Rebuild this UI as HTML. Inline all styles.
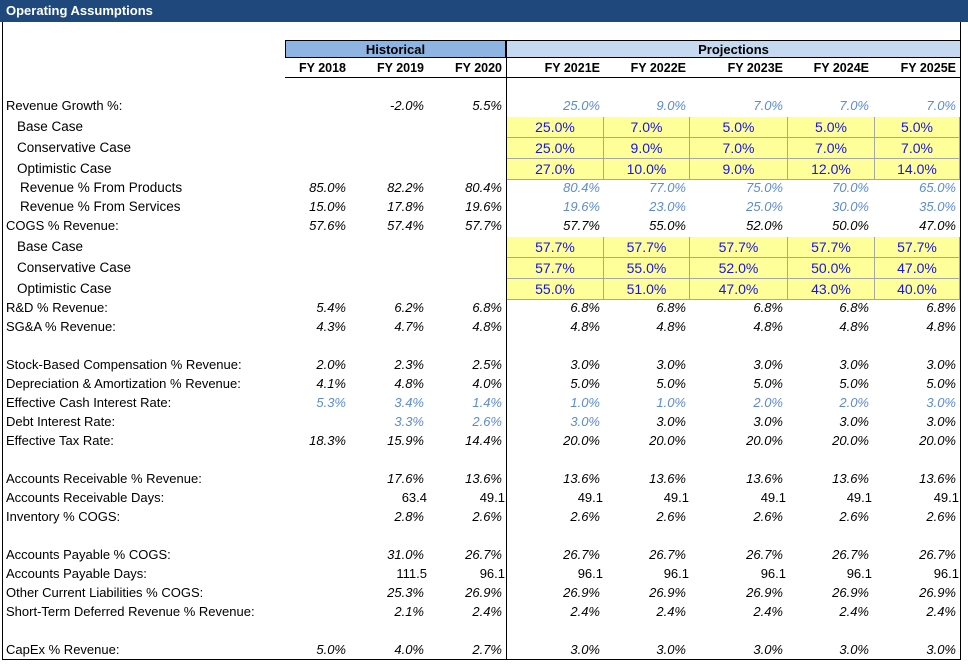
<!DOCTYPE html>
<html><head><meta charset="utf-8">
<style>
body{margin:0;background:#fff;}
#sheet{position:relative;width:968px;height:666px;overflow:hidden;font-family:"Liberation Sans",Arial,sans-serif;font-size:13px;color:#000;}
.abs{position:absolute;white-space:nowrap;}
.v{position:absolute;white-space:nowrap;text-align:right;line-height:19px;height:19px;}
.lab{position:absolute;white-space:nowrap;line-height:19px;}
.yc{position:absolute;background:#FFFF99;border-right:1px solid #A6A6A6;border-bottom:1px solid #A6A6A6;box-sizing:border-box;text-align:center;color:#1515E8;font-size:14px;line-height:20px;}
</style></head><body>
<div id="sheet">
  <div class="abs" style="left:0;top:0;width:968px;height:22px;background:#1F497D;"></div>
  <div class="abs" style="left:6px;top:3px;color:#fff;font-weight:bold;font-size:13px;">Operating Assumptions</div>
  <div class="abs" style="left:2px;top:22px;width:1px;height:638px;background:#000;"></div>
  <div class="abs" style="left:960px;top:22px;width:1px;height:638px;background:#000;"></div>
  <div class="abs" style="left:2px;top:659px;width:959px;height:1px;background:#000;"></div>
  <div class="abs" style="left:506px;top:40px;width:1px;height:620px;background:#000;"></div>
  <div class="abs" style="left:285px;top:40px;width:221px;height:18px;background:#8DB4E2;border:1px solid #000;box-sizing:border-box;text-align:center;font-weight:bold;line-height:17px;">Historical</div>
  <div class="abs" style="left:507px;top:40px;width:453px;height:18px;background:#C5D9F1;border-top:1px solid #000;border-bottom:1px solid #000;box-sizing:border-box;text-align:center;font-weight:bold;line-height:17px;">Projections</div>
  <div class="abs" style="left:285px;top:77px;width:675px;height:1px;background:#000;"></div>
</div>
<script>
const years=["FY 2018","FY 2019","FY 2020","FY 2021E","FY 2022E","FY 2023E","FY 2024E","FY 2025E"];
const rowLabels=["Revenue Growth %:","Base Case","Conservative Case","Optimistic Case","Revenue % From Products","Revenue % From Services","COGS % Revenue:","Base Case","Conservative Case","Optimistic Case","R&D % Revenue:","SG&A % Revenue:","Stock-Based Compensation % Revenue:","Depreciation & Amortization % Revenue:","Effective Cash Interest Rate:","Debt Interest Rate:","Effective Tax Rate:","Accounts Receivable % Revenue:","Accounts Receivable Days:","Inventory % COGS:","Accounts Payable % COGS:","Accounts Payable Days:","Other Current Liabilities % COGS:","Short-Term Deferred Revenue % Revenue:","CapEx % Revenue:"];
const rowValues=[
["","-2.0%","5.5%","25.0%","9.0%","7.0%","7.0%","7.0%"],
["","","","25.0%","7.0%","5.0%","5.0%","5.0%"],
["","","","25.0%","9.0%","7.0%","7.0%","7.0%"],
["","","","27.0%","10.0%","9.0%","12.0%","14.0%"],
["85.0%","82.2%","80.4%","80.4%","77.0%","75.0%","70.0%","65.0%"],
["15.0%","17.8%","19.6%","19.6%","23.0%","25.0%","30.0%","35.0%"],
["57.6%","57.4%","57.7%","57.7%","55.0%","52.0%","50.0%","47.0%"],
["","","","57.7%","57.7%","57.7%","57.7%","57.7%"],
["","","","57.7%","55.0%","52.0%","50.0%","47.0%"],
["","","","55.0%","51.0%","47.0%","43.0%","40.0%"],
["5.4%","6.2%","6.8%","6.8%","6.8%","6.8%","6.8%","6.8%"],
["4.3%","4.7%","4.8%","4.8%","4.8%","4.8%","4.8%","4.8%"],
["2.0%","2.3%","2.5%","3.0%","3.0%","3.0%","3.0%","3.0%"],
["4.1%","4.8%","4.0%","5.0%","5.0%","5.0%","5.0%","5.0%"],
["5.3%","3.4%","1.4%","1.0%","1.0%","2.0%","2.0%","3.0%"],
["","3.3%","2.6%","3.0%","3.0%","3.0%","3.0%","3.0%"],
["18.3%","15.9%","14.4%","20.0%","20.0%","20.0%","20.0%","20.0%"],
["","17.6%","13.6%","13.6%","13.6%","13.6%","13.6%","13.6%"],
["","63.4","49.1","49.1","49.1","49.1","49.1","49.1"],
["","2.8%","2.6%","2.6%","2.6%","2.6%","2.6%","2.6%"],
["","31.0%","26.7%","26.7%","26.7%","26.7%","26.7%","26.7%"],
["","111.5","96.1","96.1","96.1","96.1","96.1","96.1"],
["","25.3%","26.9%","26.9%","26.9%","26.9%","26.9%","26.9%"],
["","2.1%","2.4%","2.4%","2.4%","2.4%","2.4%","2.4%"],
["5.0%","4.0%","2.7%","3.0%","3.0%","3.0%","3.0%","3.0%"]
];
// style codes: k black italic, b blue italic, n normal, y yellow input
const rowStyles=["kkkbbbbb","yyyyyyyy","yyyyyyyy","yyyyyyyy","kkkbbbbb","kkkbbbbb","kkkkkkkk","yyyyyyyy","yyyyyyyy","yyyyyyyy","kkkkkkkk","kkkkkkkk","kkkkkkkk","kkkkkkkk","bbbbbbbb","kbbbkkkk","kkkkkkkk","kkkkkkkk","nnnnnnnn","kkkkkkkk","kkkkkkkk","nnnnnnnn","kkkkkkkk","kkkkkkkk","kkkkkkkk"];
const rowY=[106,127,148,169,188,207,226,247,268,289,308,327,365,384,403,422,441,479,498,517,555,574,593,612,650];
const rowIndent=[0,11,11,11,14,14,0,11,11,11,0,0,0,0,0,0,0,0,0,0,0,0,0,0,0];
const colRight=[346,424,502,600,686,783,869,956];
const yLeft=[507,604,690,788,875,960];
const sheet=document.getElementById('sheet');
function slug(s){return s.toLowerCase().replace(/[^a-z0-9]+/g,'-').replace(/^-|-$/g,'');}
years.forEach((y,i)=>{
  const d=document.createElement('div');
  d.className='abs';
  
  
  d.style.left=(colRight[i]-80)+'px';d.style.width='80px';d.style.textAlign='right';
  d.style.top='61px';d.style.fontWeight='bold';d.style.fontSize='12.5px';
  d.textContent=y;sheet.appendChild(d);
});
rowLabels.forEach((lab,r)=>{
  const yc=rowY[r];
  const isY=rowStyles[r][0]==='y';
  const l=document.createElement('div');
  l.className='lab';
  
  
  l.style.left=(6+rowIndent[r])+'px';l.style.top=(yc-10)+'px';
  if(isY||rowIndent[r]>0) l.style.fontSize='13.5px';
  l.textContent=lab;sheet.appendChild(l);
  rowValues[r].forEach((v,c)=>{
    const st=rowStyles[r][c];
    if(st==='y'){
      if(c<3) return;
      const k=c-3;
      const cell=document.createElement('div');
      cell.className='yc';
      
      
      cell.style.left=yLeft[k]+'px';cell.style.width=(yLeft[k+1]-yLeft[k])+'px';
      cell.style.top=(yc-10)+'px';cell.style.height='21px';
      cell.textContent=v;sheet.appendChild(cell);
      return;
    }
    if(v==='') return;
    const d=document.createElement('div');
    d.className='v';
    
    
    const right=colRight[c]+(st==='n'?3:0);
    d.style.left=(right-70)+'px';d.style.width='70px';d.style.top=(yc-10)+'px';
    if(st!=='n') d.style.fontStyle='italic';
    if(st==='b') d.style.color='#5B8BD3';
    d.textContent=v;sheet.appendChild(d);
  });
});
</script>
</body></html>
